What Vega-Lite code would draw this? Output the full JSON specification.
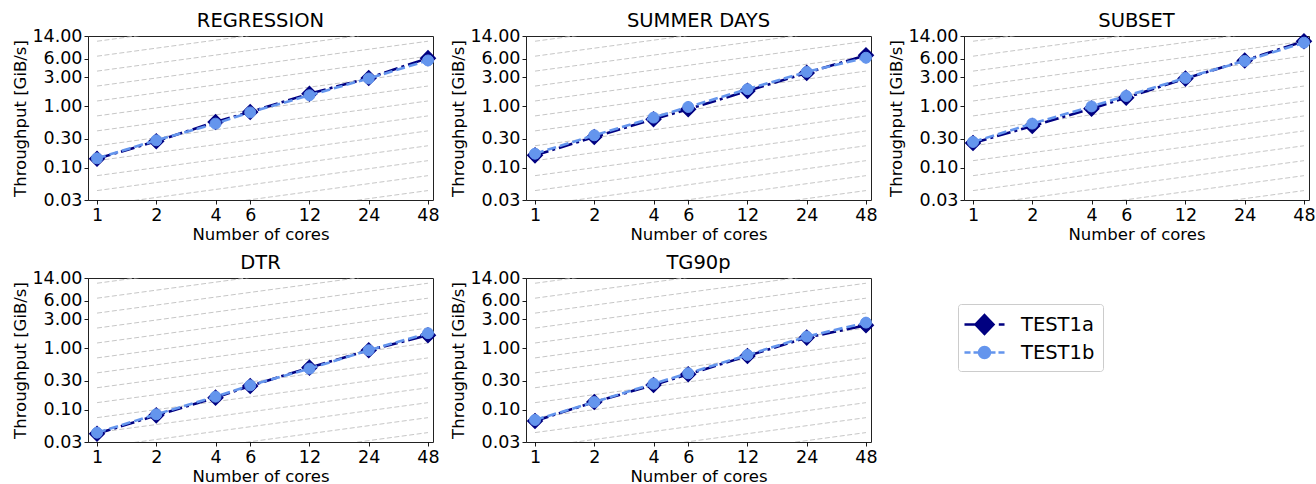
{
  "$schema": "https://vega.github.io/schema/vega-lite/v6.json",
  "padding": {"left": 12, "top": 10, "right": 5, "bottom": 5},
  "background": "white",
  "datasets": {
    "d": [
      {"p": "REGRESSION", "s": "TEST1a", "cores": 1, "v": 0.141},
      {"p": "REGRESSION", "s": "TEST1a", "cores": 2, "v": 0.271},
      {"p": "REGRESSION", "s": "TEST1a", "cores": 4, "v": 0.559},
      {"p": "REGRESSION", "s": "TEST1a", "cores": 6, "v": 0.813},
      {"p": "REGRESSION", "s": "TEST1a", "cores": 12, "v": 1.61},
      {"p": "REGRESSION", "s": "TEST1a", "cores": 24, "v": 2.9},
      {"p": "REGRESSION", "s": "TEST1a", "cores": 48, "v": 6.1},
      {"p": "REGRESSION", "s": "TEST1b", "cores": 1, "v": 0.143},
      {"p": "REGRESSION", "s": "TEST1b", "cores": 2, "v": 0.281},
      {"p": "REGRESSION", "s": "TEST1b", "cores": 4, "v": 0.525},
      {"p": "REGRESSION", "s": "TEST1b", "cores": 6, "v": 0.8},
      {"p": "REGRESSION", "s": "TEST1b", "cores": 12, "v": 1.52},
      {"p": "REGRESSION", "s": "TEST1b", "cores": 24, "v": 2.85},
      {"p": "REGRESSION", "s": "TEST1b", "cores": 48, "v": 5.6},
      {"p": "SUMMER DAYS", "s": "TEST1a", "cores": 1, "v": 0.16},
      {"p": "SUMMER DAYS", "s": "TEST1a", "cores": 2, "v": 0.318},
      {"p": "SUMMER DAYS", "s": "TEST1a", "cores": 4, "v": 0.618},
      {"p": "SUMMER DAYS", "s": "TEST1a", "cores": 6, "v": 0.9},
      {"p": "SUMMER DAYS", "s": "TEST1a", "cores": 12, "v": 1.79},
      {"p": "SUMMER DAYS", "s": "TEST1a", "cores": 24, "v": 3.51},
      {"p": "SUMMER DAYS", "s": "TEST1a", "cores": 48, "v": 6.8},
      {"p": "SUMMER DAYS", "s": "TEST1b", "cores": 1, "v": 0.17},
      {"p": "SUMMER DAYS", "s": "TEST1b", "cores": 2, "v": 0.339},
      {"p": "SUMMER DAYS", "s": "TEST1b", "cores": 4, "v": 0.658},
      {"p": "SUMMER DAYS", "s": "TEST1b", "cores": 6, "v": 0.98},
      {"p": "SUMMER DAYS", "s": "TEST1b", "cores": 12, "v": 1.91},
      {"p": "SUMMER DAYS", "s": "TEST1b", "cores": 24, "v": 3.65},
      {"p": "SUMMER DAYS", "s": "TEST1b", "cores": 48, "v": 6.2},
      {"p": "SUBSET", "s": "TEST1a", "cores": 1, "v": 0.254},
      {"p": "SUBSET", "s": "TEST1a", "cores": 2, "v": 0.48},
      {"p": "SUBSET", "s": "TEST1a", "cores": 4, "v": 0.92},
      {"p": "SUBSET", "s": "TEST1a", "cores": 6, "v": 1.39},
      {"p": "SUBSET", "s": "TEST1a", "cores": 12, "v": 2.84},
      {"p": "SUBSET", "s": "TEST1a", "cores": 24, "v": 5.6},
      {"p": "SUBSET", "s": "TEST1a", "cores": 48, "v": 11.5},
      {"p": "SUBSET", "s": "TEST1b", "cores": 1, "v": 0.264},
      {"p": "SUBSET", "s": "TEST1b", "cores": 2, "v": 0.525},
      {"p": "SUBSET", "s": "TEST1b", "cores": 4, "v": 1.0},
      {"p": "SUBSET", "s": "TEST1b", "cores": 6, "v": 1.48},
      {"p": "SUBSET", "s": "TEST1b", "cores": 12, "v": 2.91},
      {"p": "SUBSET", "s": "TEST1b", "cores": 24, "v": 5.5},
      {"p": "SUBSET", "s": "TEST1b", "cores": 48, "v": 10.9},
      {"p": "DTR", "s": "TEST1a", "cores": 1, "v": 0.0409},
      {"p": "DTR", "s": "TEST1a", "cores": 2, "v": 0.0815},
      {"p": "DTR", "s": "TEST1a", "cores": 4, "v": 0.158},
      {"p": "DTR", "s": "TEST1a", "cores": 6, "v": 0.245},
      {"p": "DTR", "s": "TEST1a", "cores": 12, "v": 0.487},
      {"p": "DTR", "s": "TEST1a", "cores": 24, "v": 0.934},
      {"p": "DTR", "s": "TEST1a", "cores": 48, "v": 1.64},
      {"p": "DTR", "s": "TEST1b", "cores": 1, "v": 0.0425},
      {"p": "DTR", "s": "TEST1b", "cores": 2, "v": 0.0848},
      {"p": "DTR", "s": "TEST1b", "cores": 4, "v": 0.164},
      {"p": "DTR", "s": "TEST1b", "cores": 6, "v": 0.251},
      {"p": "DTR", "s": "TEST1b", "cores": 12, "v": 0.469},
      {"p": "DTR", "s": "TEST1b", "cores": 24, "v": 0.934},
      {"p": "DTR", "s": "TEST1b", "cores": 48, "v": 1.77},
      {"p": "TG90p", "s": "TEST1a", "cores": 1, "v": 0.066},
      {"p": "TG90p", "s": "TEST1a", "cores": 2, "v": 0.134},
      {"p": "TG90p", "s": "TEST1a", "cores": 4, "v": 0.254},
      {"p": "TG90p", "s": "TEST1a", "cores": 6, "v": 0.379},
      {"p": "TG90p", "s": "TEST1a", "cores": 12, "v": 0.754},
      {"p": "TG90p", "s": "TEST1a", "cores": 24, "v": 1.5},
      {"p": "TG90p", "s": "TEST1a", "cores": 48, "v": 2.38},
      {"p": "TG90p", "s": "TEST1b", "cores": 1, "v": 0.0685},
      {"p": "TG90p", "s": "TEST1b", "cores": 2, "v": 0.134},
      {"p": "TG90p", "s": "TEST1b", "cores": 4, "v": 0.267},
      {"p": "TG90p", "s": "TEST1b", "cores": 6, "v": 0.394},
      {"p": "TG90p", "s": "TEST1b", "cores": 12, "v": 0.783},
      {"p": "TG90p", "s": "TEST1b", "cores": 24, "v": 1.56},
      {"p": "TG90p", "s": "TEST1b", "cores": 48, "v": 2.63}
    ],
    "g": [
      {"line": 1, "cores": 1, "v": 0.00797}, {"line": 1, "cores": 48, "v": 0.0427},
      {"line": 2, "cores": 1, "v": 0.01394}, {"line": 2, "cores": 48, "v": 0.0747},
      {"line": 3, "cores": 1, "v": 0.0244}, {"line": 3, "cores": 48, "v": 0.131},
      {"line": 4, "cores": 1, "v": 0.0427}, {"line": 4, "cores": 48, "v": 0.229},
      {"line": 5, "cores": 1, "v": 0.0747}, {"line": 5, "cores": 48, "v": 0.4},
      {"line": 6, "cores": 1, "v": 0.131}, {"line": 6, "cores": 48, "v": 0.701},
      {"line": 7, "cores": 1, "v": 0.229}, {"line": 7, "cores": 48, "v": 1.226},
      {"line": 8, "cores": 1, "v": 0.4}, {"line": 8, "cores": 48, "v": 2.146},
      {"line": 9, "cores": 1, "v": 0.701}, {"line": 9, "cores": 48, "v": 3.755},
      {"line": 10, "cores": 1, "v": 1.226}, {"line": 10, "cores": 48, "v": 6.57},
      {"line": 11, "cores": 1, "v": 2.146}, {"line": 11, "cores": 48, "v": 11.5},
      {"line": 12, "cores": 1, "v": 3.755}, {"line": 12, "cores": 48, "v": 20.1},
      {"line": 13, "cores": 1, "v": 6.57}, {"line": 13, "cores": 48, "v": 35.2},
      {"line": 14, "cores": 1, "v": 11.5}, {"line": 14, "cores": 48, "v": 61.6}
    ]
  },
  "config": {
    "font": "DejaVu Sans",
    "view": {"stroke": "#222222", "strokeWidth": 1},
    "axis": {
      "domain": false, "grid": false,
      "labelFont": "DejaVu Sans", "labelFontSize": 17.5, "labelColor": "#000000", "labelPadding": 2,
      "titleFont": "DejaVu Sans", "titleFontSize": 16.5, "titleFontWeight": "normal", "titleColor": "#000000",
      "tickColor": "#000000", "tickSize": 4, "tickWidth": 0.9
    },
    "title": {"font": "DejaVu Sans", "fontSize": 19.5, "fontWeight": "normal", "color": "#000000", "offset": -4}
  },
  "vconcat": [
    {
      "hconcat": [
        {
          "title": "REGRESSION", "width": 345, "height": 164,
          "encoding": {
            "x": {"field": "cores", "type": "quantitative", "scale": {"type": "log", "domain": [0.9, 50.9], "nice": false}, "axis": {"values": [1, 2, 4, 6, 12, 24, 48], "format": "d", "title": "Number of cores", "titlePadding": 3}},
            "y": {"field": "v", "type": "quantitative", "scale": {"type": "log", "domain": [0.03, 14], "nice": false}, "axis": {"values": [0.03, 0.1, 0.3, 1, 3, 6, 14], "format": ".2f", "title": "Throughput [GiB/s]", "titlePadding": 3}}
          },
          "layer": [
            {"data": {"name": "g"}, "mark": {"type": "line", "clip": true, "stroke": "#c0c0c0", "strokeWidth": 0.9, "strokeDash": [5, 2.5]}, "encoding": {"detail": {"field": "line"}}},
            {"data": {"name": "d"}, "transform": [{"filter": "datum.p == 'REGRESSION' && datum.s == 'TEST1a'"}], "mark": {"type": "line", "stroke": "#000080", "strokeWidth": 2.6, "strokeDash": [14, 4, 3, 4]}, "encoding": {}},
            {"data": {"name": "d"}, "transform": [{"filter": "datum.p == 'REGRESSION' && datum.s == 'TEST1a'"}], "mark": {"type": "point", "shape": "diamond", "filled": true, "fill": "#000080", "stroke": "#000080", "strokeWidth": 1.5, "size": 210, "opacity": 1}, "encoding": {}},
            {"data": {"name": "d"}, "transform": [{"filter": "datum.p == 'REGRESSION' && datum.s == 'TEST1b'"}], "mark": {"type": "line", "stroke": "#6495ED", "strokeWidth": 2.6, "strokeDash": [9, 4]}, "encoding": {}},
            {"data": {"name": "d"}, "transform": [{"filter": "datum.p == 'REGRESSION' && datum.s == 'TEST1b'"}], "mark": {"type": "point", "shape": "circle", "filled": true, "fill": "#6495ED", "stroke": "#6495ED", "strokeWidth": 1, "size": 120, "opacity": 1}, "encoding": {}}
          ]
        },
        {
          "title": "SUMMER DAYS", "width": 345, "height": 164,
          "encoding": {
            "x": {"field": "cores", "type": "quantitative", "scale": {"type": "log", "domain": [0.9, 50.9], "nice": false}, "axis": {"values": [1, 2, 4, 6, 12, 24, 48], "format": "d", "title": "Number of cores", "titlePadding": 3}},
            "y": {"field": "v", "type": "quantitative", "scale": {"type": "log", "domain": [0.03, 14], "nice": false}, "axis": {"values": [0.03, 0.1, 0.3, 1, 3, 6, 14], "format": ".2f", "title": "Throughput [GiB/s]", "titlePadding": 3}}
          },
          "layer": [
            {"data": {"name": "g"}, "mark": {"type": "line", "clip": true, "stroke": "#c0c0c0", "strokeWidth": 0.9, "strokeDash": [5, 2.5]}, "encoding": {"detail": {"field": "line"}}},
            {"data": {"name": "d"}, "transform": [{"filter": "datum.p == 'SUMMER DAYS' && datum.s == 'TEST1a'"}], "mark": {"type": "line", "stroke": "#000080", "strokeWidth": 2.6, "strokeDash": [14, 4, 3, 4]}, "encoding": {}},
            {"data": {"name": "d"}, "transform": [{"filter": "datum.p == 'SUMMER DAYS' && datum.s == 'TEST1a'"}], "mark": {"type": "point", "shape": "diamond", "filled": true, "fill": "#000080", "stroke": "#000080", "strokeWidth": 1.5, "size": 210, "opacity": 1}, "encoding": {}},
            {"data": {"name": "d"}, "transform": [{"filter": "datum.p == 'SUMMER DAYS' && datum.s == 'TEST1b'"}], "mark": {"type": "line", "stroke": "#6495ED", "strokeWidth": 2.6, "strokeDash": [9, 4]}, "encoding": {}},
            {"data": {"name": "d"}, "transform": [{"filter": "datum.p == 'SUMMER DAYS' && datum.s == 'TEST1b'"}], "mark": {"type": "point", "shape": "circle", "filled": true, "fill": "#6495ED", "stroke": "#6495ED", "strokeWidth": 1, "size": 120, "opacity": 1}, "encoding": {}}
          ]
        },
        {
          "title": "SUBSET", "width": 345, "height": 164,
          "encoding": {
            "x": {"field": "cores", "type": "quantitative", "scale": {"type": "log", "domain": [0.9, 50.9], "nice": false}, "axis": {"values": [1, 2, 4, 6, 12, 24, 48], "format": "d", "title": "Number of cores", "titlePadding": 3}},
            "y": {"field": "v", "type": "quantitative", "scale": {"type": "log", "domain": [0.03, 14], "nice": false}, "axis": {"values": [0.03, 0.1, 0.3, 1, 3, 6, 14], "format": ".2f", "title": "Throughput [GiB/s]", "titlePadding": 3}}
          },
          "layer": [
            {"data": {"name": "g"}, "mark": {"type": "line", "clip": true, "stroke": "#c0c0c0", "strokeWidth": 0.9, "strokeDash": [5, 2.5]}, "encoding": {"detail": {"field": "line"}}},
            {"data": {"name": "d"}, "transform": [{"filter": "datum.p == 'SUBSET' && datum.s == 'TEST1a'"}], "mark": {"type": "line", "stroke": "#000080", "strokeWidth": 2.6, "strokeDash": [14, 4, 3, 4]}, "encoding": {}},
            {"data": {"name": "d"}, "transform": [{"filter": "datum.p == 'SUBSET' && datum.s == 'TEST1a'"}], "mark": {"type": "point", "shape": "diamond", "filled": true, "fill": "#000080", "stroke": "#000080", "strokeWidth": 1.5, "size": 210, "opacity": 1}, "encoding": {}},
            {"data": {"name": "d"}, "transform": [{"filter": "datum.p == 'SUBSET' && datum.s == 'TEST1b'"}], "mark": {"type": "line", "stroke": "#6495ED", "strokeWidth": 2.6, "strokeDash": [9, 4]}, "encoding": {}},
            {"data": {"name": "d"}, "transform": [{"filter": "datum.p == 'SUBSET' && datum.s == 'TEST1b'"}], "mark": {"type": "point", "shape": "circle", "filled": true, "fill": "#6495ED", "stroke": "#6495ED", "strokeWidth": 1, "size": 120, "opacity": 1}, "encoding": {}}
          ]
        }
      ],
      "spacing": 10
    },
    {
      "hconcat": [
        {
          "title": "DTR", "width": 345, "height": 164,
          "encoding": {
            "x": {"field": "cores", "type": "quantitative", "scale": {"type": "log", "domain": [0.9, 50.9], "nice": false}, "axis": {"values": [1, 2, 4, 6, 12, 24, 48], "format": "d", "title": "Number of cores", "titlePadding": 3}},
            "y": {"field": "v", "type": "quantitative", "scale": {"type": "log", "domain": [0.03, 14], "nice": false}, "axis": {"values": [0.03, 0.1, 0.3, 1, 3, 6, 14], "format": ".2f", "title": "Throughput [GiB/s]", "titlePadding": 3}}
          },
          "layer": [
            {"data": {"name": "g"}, "mark": {"type": "line", "clip": true, "stroke": "#c0c0c0", "strokeWidth": 0.9, "strokeDash": [5, 2.5]}, "encoding": {"detail": {"field": "line"}}},
            {"data": {"name": "d"}, "transform": [{"filter": "datum.p == 'DTR' && datum.s == 'TEST1a'"}], "mark": {"type": "line", "stroke": "#000080", "strokeWidth": 2.6, "strokeDash": [14, 4, 3, 4]}, "encoding": {}},
            {"data": {"name": "d"}, "transform": [{"filter": "datum.p == 'DTR' && datum.s == 'TEST1a'"}], "mark": {"type": "point", "shape": "diamond", "filled": true, "fill": "#000080", "stroke": "#000080", "strokeWidth": 1.5, "size": 210, "opacity": 1}, "encoding": {}},
            {"data": {"name": "d"}, "transform": [{"filter": "datum.p == 'DTR' && datum.s == 'TEST1b'"}], "mark": {"type": "line", "stroke": "#6495ED", "strokeWidth": 2.6, "strokeDash": [9, 4]}, "encoding": {}},
            {"data": {"name": "d"}, "transform": [{"filter": "datum.p == 'DTR' && datum.s == 'TEST1b'"}], "mark": {"type": "point", "shape": "circle", "filled": true, "fill": "#6495ED", "stroke": "#6495ED", "strokeWidth": 1, "size": 120, "opacity": 1}, "encoding": {}}
          ]
        },
        {
          "title": "TG90p", "width": 345, "height": 164,
          "encoding": {
            "x": {"field": "cores", "type": "quantitative", "scale": {"type": "log", "domain": [0.9, 50.9], "nice": false}, "axis": {"values": [1, 2, 4, 6, 12, 24, 48], "format": "d", "title": "Number of cores", "titlePadding": 3}},
            "y": {"field": "v", "type": "quantitative", "scale": {"type": "log", "domain": [0.03, 14], "nice": false}, "axis": {"values": [0.03, 0.1, 0.3, 1, 3, 6, 14], "format": ".2f", "title": "Throughput [GiB/s]", "titlePadding": 3}}
          },
          "layer": [
            {"data": {"name": "g"}, "mark": {"type": "line", "clip": true, "stroke": "#c0c0c0", "strokeWidth": 0.9, "strokeDash": [5, 2.5]}, "encoding": {"detail": {"field": "line"}}},
            {"data": {"name": "d"}, "transform": [{"filter": "datum.p == 'TG90p' && datum.s == 'TEST1a'"}], "mark": {"type": "line", "stroke": "#000080", "strokeWidth": 2.6, "strokeDash": [14, 4, 3, 4]}, "encoding": {}},
            {"data": {"name": "d"}, "transform": [{"filter": "datum.p == 'TG90p' && datum.s == 'TEST1a'"}], "mark": {"type": "point", "shape": "diamond", "filled": true, "fill": "#000080", "stroke": "#000080", "strokeWidth": 1.5, "size": 210, "opacity": 1}, "encoding": {}},
            {"data": {"name": "d"}, "transform": [{"filter": "datum.p == 'TG90p' && datum.s == 'TEST1b'"}], "mark": {"type": "line", "stroke": "#6495ED", "strokeWidth": 2.6, "strokeDash": [9, 4]}, "encoding": {}},
            {"data": {"name": "d"}, "transform": [{"filter": "datum.p == 'TG90p' && datum.s == 'TEST1b'"}], "mark": {"type": "point", "shape": "circle", "filled": true, "fill": "#6495ED", "stroke": "#6495ED", "strokeWidth": 1, "size": 120, "opacity": 1}, "encoding": {}}
          ]
        },
        {
          "width": 345, "height": 164,
          "view": {"stroke": null},
          "data": {"name": "d"},
          "transform": [{"filter": "false"}],
          "mark": {"type": "point", "filled": true, "strokeWidth": 2.5, "opacity": 1},
          "encoding": {
            "fill": {"field": "s", "type": "nominal", "scale": {"domain": ["TEST1a", "TEST1b"], "range": ["#000080", "#6495ED"]},
              "legend": {"title": null, "orient": "none", "legendX": 870, "legendY": 268, "labelFont": "DejaVu Sans", "labelFontSize": 19.5, "labelColor": "#000000", "symbolSize": 484, "symbolOffset": 6, "symbolStrokeWidth": 2.5, "strokeColor": "#cccccc", "fillColor": "white", "padding": 8, "cornerRadius": 3, "rowPadding": 1, "labelOffset": 24}},
            "stroke": {"field": "s", "type": "nominal", "scale": {"domain": ["TEST1a", "TEST1b"], "range": ["#000080", "#6495ED"]}},
            "shape": {"field": "s", "type": "nominal", "scale": {"domain": ["TEST1a", "TEST1b"], "range": [
              "M-1.82,0H-0.75M1.3,0H1.82M0,-0.85L0.82,0L0,0.85L-0.82,0Z",
              "M-1.82,0H-1.27M-1.0,0H-0.55M0.55,0H1.0M1.27,0H1.82M-0.5,0A0.5,0.5 0 1,0 0.5,0A0.5,0.5 0 1,0 -0.5,0Z"
            ]}}
          }
        }
      ],
      "spacing": 10
    }
  ],
  "spacing": 8
}
